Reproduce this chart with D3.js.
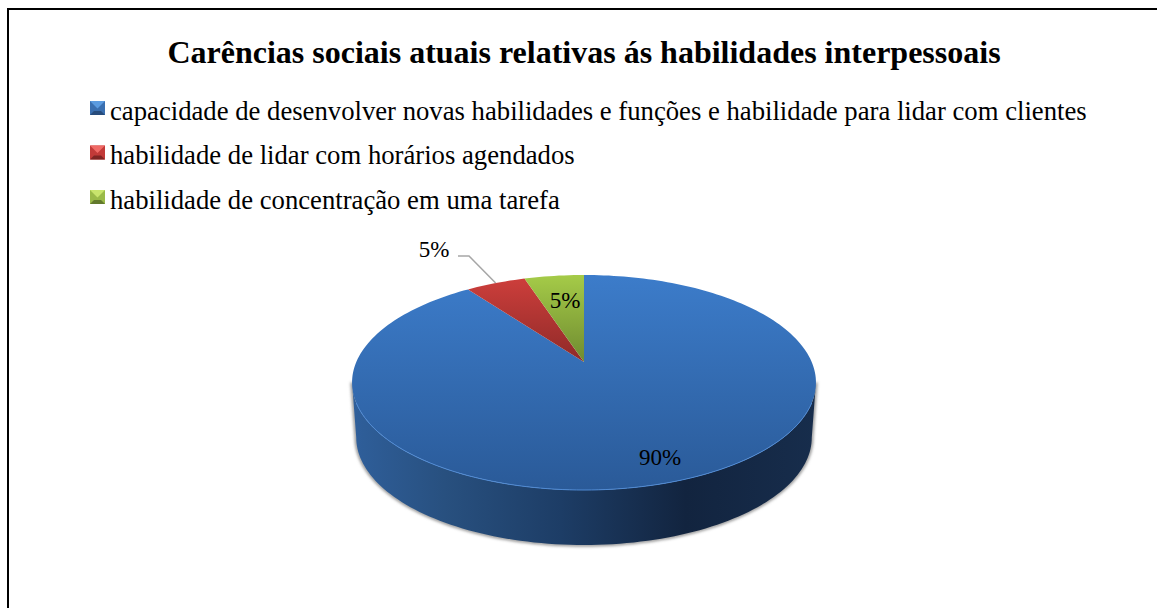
<!DOCTYPE html>
<html>
<head>
<meta charset="utf-8">
<script src="https://cdn.jsdelivr.net/npm/d3@7"></script>
<style>
html, body { margin: 0; padding: 0; background: #fff; }
svg { display: block; }
text { font-family: "Liberation Serif", serif; fill: #000; }
</style>
</head>
<body>
<svg id="chart" width="1157" height="608"></svg>
<script>
const chartTitle = "Carências sociais atuais relativas ás habilidades interpessoais";
const categories = [
  "capacidade de desenvolver novas habilidades e funções e habilidade para lidar com clientes",
  "habilidade de lidar com horários agendados",
  "habilidade de concentração em uma tarefa"
];
const shares = [90, 5, 5];
const shareLabels = ["90%", "5%", "5%"];

const topColors = [["#3c7cca", "#2a5a98"], ["#cf3f3c", "#8f2a28"], ["#a5cb48", "#6f8b30"]];
const markerColors = [
  { top: "#5b9be0", side: "#3a6fb0", bottom: "#274c7c" },
  { top: "#f06a66", side: "#c23a38", bottom: "#7f2523" },
  { top: "#c8e46c", side: "#9aba48", bottom: "#62792c" }
];

const svg = d3.select("#chart");
const defs = svg.append("defs");

// Frame
svg.append("path")
  .attr("d", "M8,608V9H1157")
  .attr("fill", "none").attr("stroke", "#000").attr("stroke-width", 2);

svg.append("text")
  .attr("x", 584).attr("y", 63)
  .attr("text-anchor", "middle")
  .attr("font-size", 32).attr("font-weight", "bold")
  .text(chartTitle);

// Legend with bevelled markers
const rowScale = d3.scalePoint().domain(d3.range(categories.length)).range([112, 201]);
const markerSize = 15;
categories.forEach((name, i) => {
  const y = rowScale(i);
  const g = svg.append("g").attr("transform", `translate(90,${y - 11})`);
  const c = markerColors[i], s = markerSize, m = s / 2, inset = 4;
  g.append("rect").attr("width", s).attr("height", s - 1).attr("fill", c.side);
  g.append("path").attr("d", `M0,0H${s}L${m},${m}Z`).attr("fill", c.top);
  g.append("path").attr("d", `M0,${s - 1}H${s}L${s - inset},${s - inset - 1}H${inset}Z`).attr("fill", c.bottom);
  svg.append("text")
    .attr("x", 110).attr("y", y + 7.5)
    .attr("font-size", 26.7)
    .text(name);
});

// Tilted pie: unit-circle coordinates are pushed through a perspective mapping
const cx = 584, apexY = 362;
const tilt = 0.1907, radiusY = 103.6, radiusX = 227.7;
const depth = 55, bottomShrink = 0.982;
function project(angle, drop) {
  const u = Math.sin(angle), v = Math.cos(angle), w = 1 + tilt * v;
  const scale = drop ? bottomShrink : 1;
  return [cx + scale * radiusX * u / w, apexY - radiusY * v / w + (drop || 0)];
}
const samples = 240;
function rim(a0, a1, drop) {
  const n = Math.max(2, Math.ceil(samples * Math.abs(a1 - a0) / (2 * Math.PI)));
  return d3.range(n + 1).map(k => project(a0 + (a1 - a0) * k / n, drop));
}
const line = d3.line();
const arcs = d3.pie().sort(null)(shares);

// Angles at which the projected rim reaches its widest point on each side
const nearStart = Math.acos(-tilt);
const nearEnd = 2 * Math.PI - nearStart;

// Soft shadow under the base
defs.append("filter").attr("id", "soft").attr("x", "-5%").attr("y", "-5%").attr("width", "110%").attr("height", "110%")
  .append("feGaussianBlur").attr("stdDeviation", 1.6);
const topFront = rim(nearStart, nearEnd);
const baseFront = rim(nearStart, nearEnd, depth);
svg.append("path")
  .attr("d", line([topFront[0]].concat(baseFront, [topFront[topFront.length - 1]])))
  .attr("fill", "none").attr("stroke", "#8a8a8a").attr("stroke-width", 3)
  .attr("filter", "url(#soft)");

// Outer wall of the disc, visible along the near side only
const wallGrad = defs.append("linearGradient").attr("id", "wall")
  .attr("gradientUnits", "userSpaceOnUse")
  .attr("x1", 352).attr("x2", 816).attr("y1", 0).attr("y2", 0);
[[0, "#2f5f9b"], [0.2, "#28507f"], [0.45, "#1d3d66"], [0.72, "#12243f"], [1, "#172d4c"]]
  .forEach(([o, c]) => wallGrad.append("stop").attr("offset", o).attr("stop-color", c));

svg.append("path")
  .attr("d", line(topFront.concat(baseFront.slice().reverse())) + "Z")
  .attr("fill", "url(#wall)");

// Top face slices
arcs.forEach((d, i) => {
  const grad = defs.append("linearGradient").attr("id", `face${i}`)
    .attr("gradientUnits", "userSpaceOnUse")
    .attr("x1", 0).attr("x2", 0).attr("y1", 275).attr("y2", i === 0 ? 490 : 362);
  grad.append("stop").attr("offset", 0).attr("stop-color", topColors[i][0]);
  grad.append("stop").attr("offset", 1).attr("stop-color", topColors[i][1]);
  svg.append("path")
    .attr("d", line([[cx, apexY]].concat(rim(d.startAngle, d.endAngle))) + "Z")
    .attr("fill", `url(#face${i})`);
});

// Pale highlight along the near edge of the top face
svg.append("path")
  .attr("d", line(rim(Math.PI * 0.62, Math.PI * 1.38)))
  .attr("fill", "none").attr("stroke", "#4f8ad4").attr("stroke-width", 1);

// Leader line for the label placed outside the pie
const leaderAngle = (arcs[1].startAngle + arcs[1].endAngle) / 2;
const leaderEnd = project(leaderAngle);
svg.append("path")
  .attr("d", line([[458, 256], [469, 256], leaderEnd]))
  .attr("fill", "none").attr("stroke", "#a6a6a6").attr("stroke-width", 1.5);

// Value labels
const labelAnchors = [[660, 465], [434, 257], [565, 308]];
shareLabels.forEach((t, i) => {
  svg.append("text")
    .attr("x", labelAnchors[i][0]).attr("y", labelAnchors[i][1])
    .attr("text-anchor", "middle")
    .attr("font-size", 23)
    .text(t);
});
</script>
</body>
</html>
